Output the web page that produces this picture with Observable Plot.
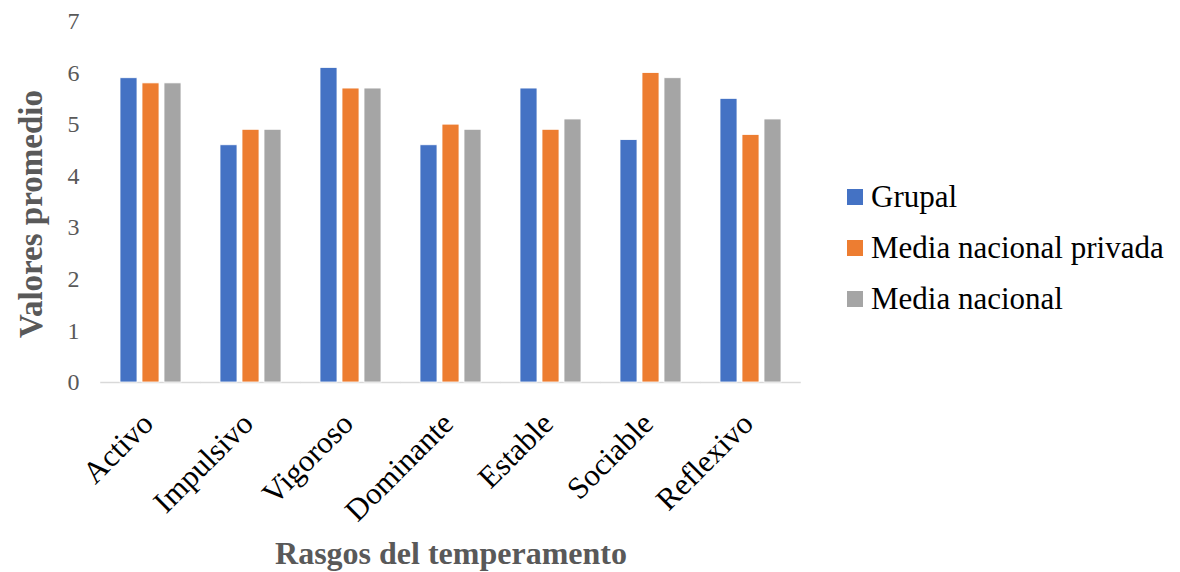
<!DOCTYPE html>
<html>
<head>
<meta charset="utf-8">
<script src="https://cdn.jsdelivr.net/npm/d3@7"></script>
<script src="https://cdn.jsdelivr.net/npm/@observablehq/plot@0.6"></script>
<style>
  body { margin: 0; background: #fff; }
  #wrap { position: relative; width: 1180px; height: 572px; font-family: "Liberation Serif", "Times New Roman", serif; overflow: hidden; }
  #wrap svg { position: absolute; left: 0; top: 0; font-family: "Liberation Serif", "Times New Roman", serif; }
  .ytitle { position: absolute; left: 31px; top: 214px; transform: translate(-50%, -50%) rotate(-90deg); font-size: 33px; font-weight: bold; color: #595959; white-space: nowrap; line-height: 1; }
  .xtitle { position: absolute; left: 451px; top: 553px; transform: translate(-50%, -50%); font-size: 32px; font-weight: bold; color: #595959; white-space: nowrap; line-height: 1; }
  .legend { position: absolute; left: 847px; top: 171px; }
  .legend .row { display: flex; align-items: center; height: 51px; font-size: 31px; color: #000; white-space: nowrap; }
  .legend .sw { width: 16px; height: 16px; margin-right: 8px; flex: none; }
</style>
</head>
<body>
<div id="wrap"></div>
<script>
const traits = ["Activo", "Impulsivo", "Vigoroso", "Dominante", "Estable", "Sociable", "Reflexivo"];
const series = ["Grupal", "Media nacional privada", "Media nacional"];
const colors = ["#4472C4", "#ED7D31", "#A5A5A5"];
const grupal   = [5.9, 4.6, 6.1, 4.6, 5.7, 4.7, 5.5];
const privada  = [5.8, 4.9, 5.7, 5.0, 4.9, 6.0, 4.8];
const nacional = [5.8, 4.9, 5.7, 4.9, 5.1, 5.9, 5.1];
const yTicks = [0, 1, 2, 3, 4, 5, 6, 7];
const yLabel = "Valores promedio";
const xLabel = "Rasgos del temperamento";

const seriesValues = [grupal, privada, nacional];
const data = [];
traits.forEach((t, i) => {
  series.forEach((s, j) => data.push({ trait: t, series: s, value: seriesValues[j][i] }));
});

const W = 1180, H = 572;
const mL = 98, mR = 378, mT = 21, mB = 190;
const padIn = 0.373, padOut = padIn / 2;
const step = (W - mL - mR) / traits.length;
const halfGap = step * padOut;

const chart = Plot.plot({
  width: W,
  height: H,
  marginLeft: mL,
  marginRight: mR,
  marginTop: mT,
  marginBottom: mB,
  style: { fontFamily: '"Liberation Serif", "Times New Roman", serif', background: "transparent" },
  fx: { domain: traits, paddingInner: padIn, paddingOuter: padOut, label: null, axis: null },
  x: { domain: series, paddingInner: 0.23, paddingOuter: 0, axis: null },
  y: { domain: [0, 7], axis: null },
  color: { domain: series, range: colors },
  marks: [
    Plot.ruleY([0], { stroke: "#d9d9d9", strokeWidth: 1.5, insetLeft: -halfGap, insetRight: -halfGap }),
    Plot.barY(data, { fx: "trait", x: "series", y: "value", fill: "series", stroke: "#fff", strokeWidth: 0.8 }),
    Plot.axisY({ ticks: yTicks, tickSize: 0, tickPadding: 40, fontSize: 24, fill: "#595959", label: null, tickFormat: d => String(d) }),
    Plot.axisFx({ anchor: "bottom", tickRotate: -45, tickSize: 0, tickPadding: 36, dx: -3, fontSize: 31, fill: "#000", label: null })
  ]
});

const wrap = document.getElementById("wrap");
wrap.appendChild(chart);

const yt = document.createElement("div");
yt.className = "ytitle";
yt.textContent = yLabel;
wrap.appendChild(yt);

const xt = document.createElement("div");
xt.className = "xtitle";
xt.textContent = xLabel;
wrap.appendChild(xt);

const lg = document.createElement("div");
lg.className = "legend";
series.forEach((s, j) => {
  const row = document.createElement("div");
  row.className = "row";
  const sw = document.createElement("span");
  sw.className = "sw";
  sw.style.background = colors[j];
  const tx = document.createElement("span");
  tx.textContent = s;
  row.appendChild(sw);
  row.appendChild(tx);
  lg.appendChild(row);
});
wrap.appendChild(lg);
</script>
</body>
</html>
